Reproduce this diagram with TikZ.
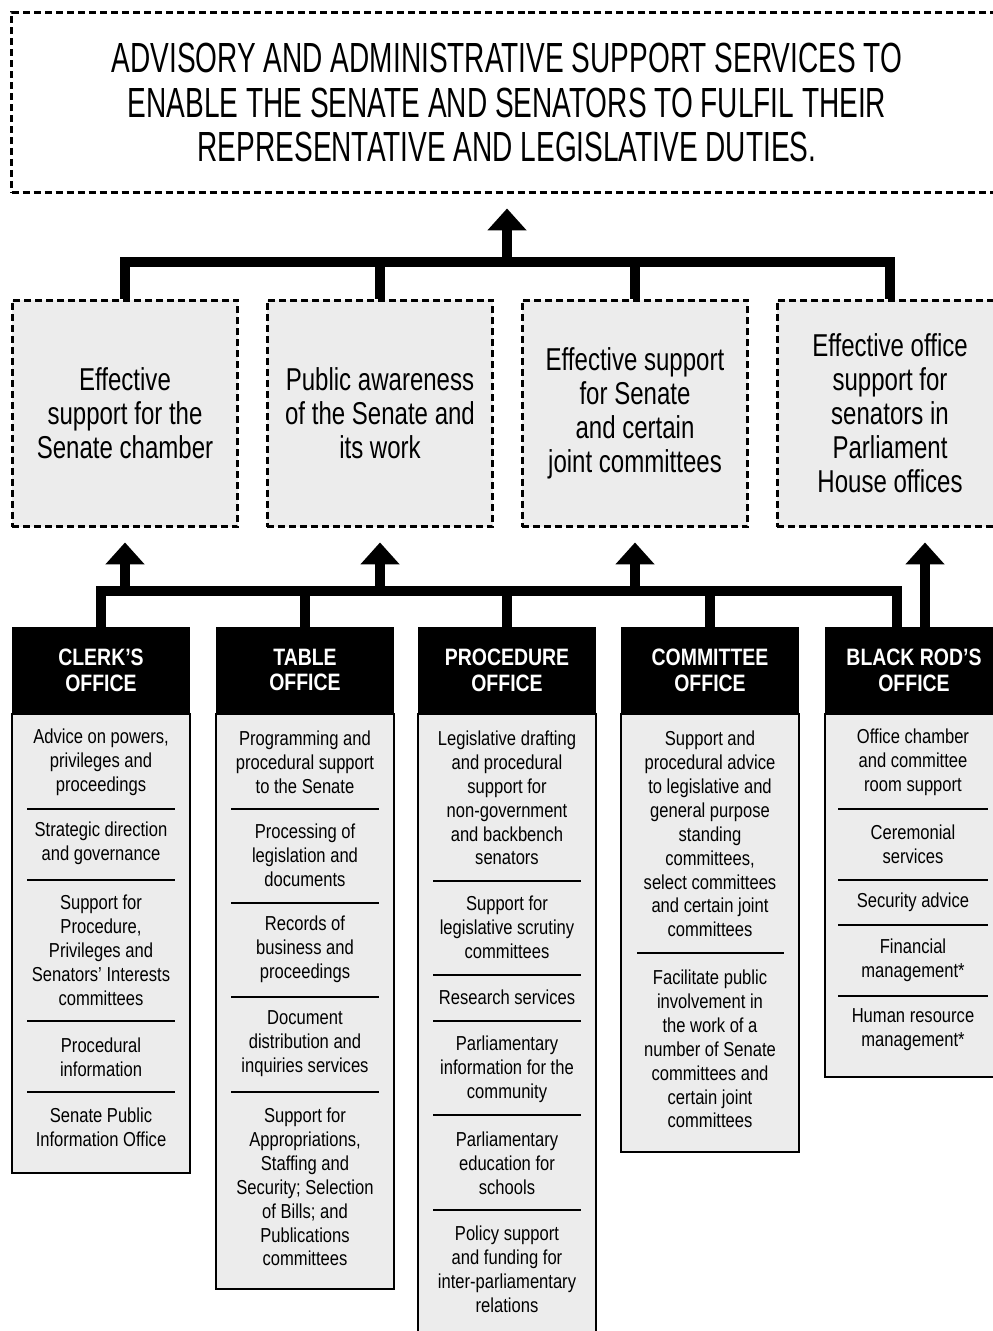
\documentclass[tikz,border=0pt]{standalone}
\usepackage{fontspec}
\setmainfont{Liberation Sans}[FakeStretch=0.82]
\newfontfamily\titlefont{Liberation Sans}[FakeStretch=0.665]
\newfontfamily\goalfont{Liberation Sans}[FakeStretch=0.76]
\usetikzlibrary{arrows.meta, positioning, calc}
\definecolor{boxgray}{HTML}{ECECEC}

\tikzset{
  dash box/.style={draw, line width=0.06cm, dash pattern=on 0.14cm off 0.08cm, inner sep=0pt, align=center},
  goalbox/.style={dash box, fill=boxgray, minimum width=4.52cm, minimum height=4.54cm,
    font=\goalfont\fontsize{18}{19.3}\selectfont},
  officehead/.style={fill=black, text=white, minimum width=3.56cm, minimum height=1.72cm,
    inner sep=0pt, align=center, font=\fontsize{13.5}{14.7}\selectfont\bfseries},
  officebody/.style={draw, line width=0.03cm, fill=boxgray, minimum width=3.56cm, anchor=north, inner sep=0pt},
  item/.style={align=center, inner sep=0pt, font=\fontsize{11.5}{13.6}\selectfont},
  sepline/.style={line width=0.03cm},
  bar/.style={line width=0.2cm, line join=miter},
  uparrow/.style={bar, -{Triangle[width=0.76cm,length=0.44cm]}, shorten >=0.28cm},
}

\begin{document}
\begin{tikzpicture}[x=0.02cm, y=-0.02cm]
  \useasboundingbox (0,0) rectangle (993,1331);

  % overall goal
  \node (goal) at (507,102.5)[dash box, minimum width=19.82cm, minimum height=3.62cm,
    font=\titlefont\fontsize{24}{25.6}\selectfont]
    {ADVISORY AND ADMINISTRATIVE SUPPORT SERVICES TO\\
     ENABLE THE SENATE AND SENATORS TO FULFIL THEIR\\
     REPRESENTATIVE AND LEGISLATIVE DUTIES.};

  % outcomes
  \node (g1) at (125,413.5)[goalbox] {Effective\\support for the\\Senate chamber};
  \node (g2) at (380,413.5)[goalbox] {Public awareness\\of the Senate and\\its work};
  \node (g3) at (635,413.5)[goalbox] {Effective support\\for Senate\\and certain\\joint committees};
  \node (g4) at (890,413.5)[goalbox] {Effective office\\support for\\senators in\\Parliament\\House offices};

  \coordinate (tj) at (507,262);
  \draw [bar] (g1.north) -- (g1.north |- tj) -- (g4.north |- tj) -- (g4.north);
  \draw [bar] (g2.north) -- (g2.north |- tj);
  \draw [bar] (g3.north) -- (g3.north |- tj);
  \draw [uparrow] (tj) -- (goal.south);

  % offices
  \node (ch) at (101,670)[officehead] {CLERK'S\\OFFICE};
  \node (th) at (305,670)[officehead] {TABLE\\OFFICE};
  \node (ph) at (507,670)[officehead] {PROCEDURE\\OFFICE};
  \node (mh) at (710,670)[officehead] {COMMITTEE\\OFFICE};
  \node (bh) at (914,670)[officehead] {BLACK ROD'S\\OFFICE};

  \node (cb) at (ch.south)[officebody, minimum height=9.18cm] {};
  \node (tb) at (th.south)[officebody, minimum height=11.5cm] {};
  \node (pb) at (ph.south)[officebody, minimum height=12.7cm] {};
  \node (mb) at (mh.south)[officebody, minimum height=8.76cm] {};
  \node (bb) at (bh.south)[officebody, minimum height=7.26cm] {};

  \coordinate (bj) at (507,591);
  \coordinate (bk) at ($(bh.north)+(-17,0)$);
  \coordinate (ba) at ($(bh.north)+(11,0)$);
  \draw [bar] (ch.north) |- (bj) -| (bk);
  \draw [bar] (th.north) -- (th.north |- bj);
  \draw [bar] (ph.north) -- (bj);
  \draw [bar] (mh.north) -- (mh.north |- bj);
  \draw [uparrow] (g1.south |- bj) -- (g1.south);
  \draw [uparrow] (g2.south |- bj) -- (g2.south);
  \draw [uparrow] (g3.south |- bj) -- (g3.south);
  \draw [uparrow] (ba) -- (ba |- g4.south);

  % clerk's office
  \node (c1) at (101,762)[item] {Advice on powers,\\privileges and\\proceedings};
  \node (c2) at (101,843)[item] {Strategic direction\\and governance};
  \node (c3) at (101,950)[item] {Support for\\Procedure,\\Privileges and\\Senators' Interests\\committees};
  \node (c4) at (101,1057)[item] {Procedural\\information};
  \node (c5) at (101,1127)[item] {Senate Public\\Information Office};
  \foreach \y in {809,880,1021,1092}
    \draw [sepline] (27,\y) -- (175,\y);

  % table office
  \node (t1) at (305,762)[item] {Programming and\\procedural support\\to the Senate};
  \node (t2) at (305,855)[item] {Processing of\\legislation and\\documents};
  \node (t3) at (305,949)[item] {Records of\\business and\\proceedings};
  \node (t4) at (305,1044)[item] {Document\\distribution and\\inquiries services};
  \node (t5) at (305,1187)[item] {Support for\\Appropriations,\\Staffing and\\Security; Selection\\of Bills; and\\Publications\\committees};
  \foreach \y in {809,903,997,1092}
    \draw [sepline] (231,\y) -- (379,\y);

  % procedure office
  \node (p1) at (507,798)[item] {Legislative drafting\\and procedural\\support for\\non-government\\and backbench\\senators};
  \node (p2) at (507,927)[item] {Support for\\legislative scrutiny\\committees};
  \node (p3) at (507,997)[item] {Research services};
  \node (p4) at (507,1069)[item] {Parliamentary\\information for the\\community};
  \node (p5) at (507,1163)[item] {Parliamentary\\education for\\schools};
  \node (p6) at (507,1269)[item] {Policy support\\and funding for\\inter-parliamentary\\relations};
  \foreach \y in {881,975,1021,1115,1210}
    \draw [sepline] (433,\y) -- (581,\y);

  % committee office
  \node (m1) at (710,834)[item] {Support and\\procedural advice\\to legislative and\\general purpose\\standing\\committees,\\select committees\\and certain joint\\committees};
  \node (m2) at (710,1049)[item] {Facilitate public\\involvement in\\the work of a\\number of Senate\\committees and\\certain joint\\committees};
  \draw [sepline] (637,953) -- (784,953);

  % black rod's office
  \node (b1) at (913,762)[item] {Office chamber\\and committee\\room support};
  \node (b2) at (913,844)[item] {Ceremonial\\services};
  \node (b3) at (913,902)[item] {Security advice};
  \node (b4) at (913,960)[item] {Financial\\management*};
  \node (b5) at (913,1030)[item] {Human resource\\management*};
  \foreach \y in {809,880,925,996}
    \draw [sepline] (838,\y) -- (988,\y);
\end{tikzpicture}
\end{document}
